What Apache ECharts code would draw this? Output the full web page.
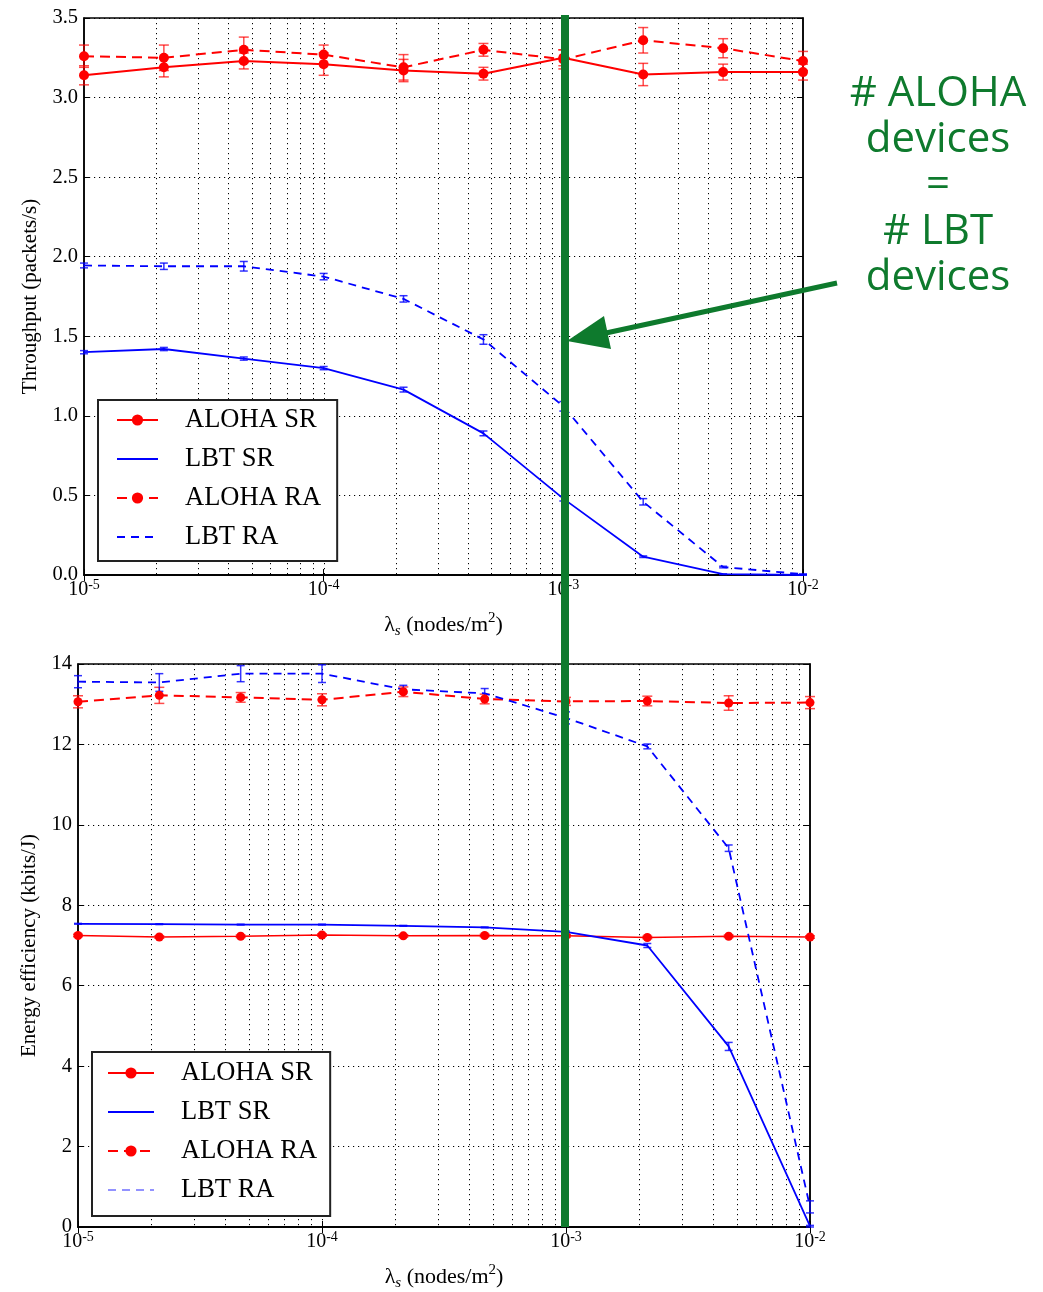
<!DOCTYPE html>
<html>
<head>
<meta charset="utf-8">
<script src="https://cdn.jsdelivr.net/npm/echarts@6/dist/echarts.min.js"></script>
<style>
html,body{margin:0;padding:0;background:#fff;}
#chart{width:1043px;height:1292px;}
</style>
</head>
<body>
<div id="chart"></div>
<script>
// ---- data ----
const lambdaS = [1e-5, 2.154e-5, 4.642e-5, 1e-4, 2.154e-4, 4.642e-4, 1e-3, 2.154e-3, 4.642e-3, 1e-2];
const gridX = [2e-5,3e-5,4e-5,5e-5,6e-5,7e-5,8e-5,9e-5,1e-4,2e-4,3e-4,4e-4,5e-4,6e-4,7e-4,8e-4,9e-4,1e-3,2e-3,3e-3,4e-3,5e-3,6e-3,7e-3,8e-3,9e-3];
const seriesNames = ['ALOHA SR', 'LBT SR', 'ALOHA RA', 'LBT RA'];

// Throughput (packets/s)
const thrAlohaSR    = [3.14, 3.19, 3.23, 3.21, 3.17, 3.15, 3.25, 3.145, 3.16, 3.16];
const thrAlohaSRErr = [0.06, 0.06, 0.05, 0.07, 0.07, 0.04, 0.05, 0.07, 0.05, 0.05];
const thrAlohaRA    = [3.26, 3.25, 3.30, 3.27, 3.19, 3.30, 3.24, 3.36, 3.31, 3.23];
const thrAlohaRAErr = [0.07, 0.08, 0.08, 0.06, 0.08, 0.04, 0.06, 0.08, 0.06, 0.06];
const thrLbtSR      = [1.40, 1.42, 1.36, 1.30, 1.165, 0.89, 0.48, 0.115, 0.005, 0.0];
const thrLbtSRErr   = [0.01, 0.01, 0.01, 0.01, 0.015, 0.015, 0.015, 0.005, 0.002, 0.001];
const thrLbtRA      = [1.945, 1.94, 1.94, 1.875, 1.735, 1.48, 1.06, 0.46, 0.05, 0.005];
const thrLbtRAErr   = [0.015, 0.02, 0.03, 0.02, 0.02, 0.03, 0.03, 0.02, 0.005, 0.002];

// Energy efficiency (kbits/J)
const eeAlohaSR    = [7.25, 7.21, 7.23, 7.26, 7.24, 7.25, 7.24, 7.20, 7.23, 7.21];
const eeAlohaSRErr = [0.03, 0.03, 0.03, 0.03, 0.03, 0.03, 0.03, 0.03, 0.03, 0.03];
const eeAlohaRA    = [13.06, 13.22, 13.17, 13.11, 13.31, 13.13, 13.07, 13.08, 13.03, 13.04];
const eeAlohaRAErr = [0.15, 0.2, 0.12, 0.15, 0.12, 0.12, 0.1, 0.12, 0.18, 0.15];
const eeLbtSR      = [7.54, 7.53, 7.52, 7.52, 7.49, 7.45, 7.34, 7.0, 4.49, 0.02];
const eeLbtSRErr   = [0.01, 0.01, 0.01, 0.01, 0.01, 0.01, 0.02, 0.05, 0.1, 0.02];
const eeLbtRA      = [13.56, 13.54, 13.76, 13.76, 13.37, 13.27, 12.66, 11.95, 9.42, 0.5];
const eeLbtRAErr   = [0.15, 0.22, 0.2, 0.22, 0.1, 0.12, 0.15, 0.06, 0.08, 0.15];

// ---- helpers ----
const SERIF = '"Liberation Serif", "DejaVu Serif", serif';
const RED = '#ff0000', BLUE = '#0000ff', GREEN = '#0e7a2d';
const DOT = [1.2, 3.8];

function pairs(v) { return lambdaS.map((x, i) => [x, v[i]]); }
function errData(v, e) { return lambdaS.map((x, i) => [x, v[i] - e[i], v[i] + e[i]]); }

function errSeries(v, e, color, cap, xi, yi) {
  return {
    type: 'custom', xAxisIndex: xi, yAxisIndex: yi, silent: true, z: 3,
    data: errData(v, e), encode: { x: 0, y: [1, 2] },
    renderItem: function (params, api) {
      const x = api.value(0);
      const p1 = api.coord([x, api.value(1)]);
      const p2 = api.coord([x, api.value(2)]);
      const st = { stroke: color, lineWidth: 1.5 };
      return { type: 'group', children: [
        { type: 'line', shape: { x1: p1[0], y1: p1[1], x2: p2[0], y2: p2[1] }, style: st },
        { type: 'line', shape: { x1: p1[0] - cap, y1: p1[1], x2: p1[0] + cap, y2: p1[1] }, style: st },
        { type: 'line', shape: { x1: p2[0] - cap, y1: p2[1], x2: p2[0] + cap, y2: p2[1] }, style: st }
      ]};
    }
  };
}

function lineSeries(name, v, color, dash, withMarker, width, xi, yi, msize) {
  return {
    name: name, type: 'line', xAxisIndex: xi, yAxisIndex: yi, data: pairs(v),
    symbol: withMarker ? 'circle' : 'none', symbolSize: msize || 9, showSymbol: withMarker,
    itemStyle: { color: color },
    lineStyle: { color: color, width: width, type: dash ? dash : 'solid' },
    z: 4, animation: false
  };
}

// vertical dotted grid lines at every decade sub-division (log minor grid)
function gridSeries(xi, yi) {
  return {
    type: 'custom', xAxisIndex: xi, yAxisIndex: yi, silent: true, z: 1,
    data: gridX.map(v => [v, 0]), encode: { x: 0, y: 1 },
    renderItem: function (params, api) {
      const cs = params.coordSys;
      const px = Math.round(api.coord([api.value(0), 0])[0]) + 0.5;
      return { type: 'line', shape: { x1: px, y1: cs.y, x2: px, y2: cs.y + cs.height },
        style: { stroke: '#000', lineWidth: 1, lineDash: DOT } };
    }
  };
}

const supRich = {
  b: { fontFamily: SERIF, fontSize: 20, color: '#000', lineHeight: 24 },
  sup: { fontFamily: SERIF, fontSize: 14, color: '#000', verticalAlign: 'top', lineHeight: 24 }
};
function expFmt(v) { const e = Math.round(Math.log10(v)); return '{b|10}{sup|' + (e < 0 ? '-' : '') + Math.abs(e) + '}'; }

const nameRich = {
  it: { fontFamily: SERIF, fontSize: 22, color: '#000' },
  sub: { fontFamily: SERIF, fontSize: 15, fontStyle: 'italic', color: '#000', verticalAlign: 'bottom', lineHeight: 28 },
  t: { fontFamily: SERIF, fontSize: 22, color: '#000' },
  sup: { fontFamily: SERIF, fontSize: 15, color: '#000', verticalAlign: 'top', lineHeight: 26 }
};

function xAxes(gi) {
  return [
    { type: 'log', logBase: 10, gridIndex: gi, min: 1e-5, max: 1e-2, position: 'bottom',
      axisLine: { lineStyle: { color: '#000', width: 1.5 } },
      axisTick: { inside: true, length: 6, lineStyle: { color: '#000' } },
      axisLabel: { formatter: expFmt, rich: supRich, margin: 3 },
      splitLine: { show: false },
      name: '{it|λ}{sub|s}{t| (nodes/m}{sup|2}{t|)}', nameLocation: 'middle', nameGap: 36,
      nameTextStyle: { rich: nameRich } },
    { type: 'log', logBase: 10, gridIndex: gi, min: 1e-5, max: 1e-2, position: 'top',
      axisLine: { lineStyle: { color: '#000', width: 1.5 } },
      axisTick: { inside: true, length: 6, lineStyle: { color: '#000' } },
      axisLabel: { show: false }, splitLine: { show: false } }
  ];
}
function yAxes(gi, max, step, dec, name, gap) {
  return [
    { type: 'value', gridIndex: gi, min: 0, max: max, interval: step, position: 'left',
      axisLine: { show: true, lineStyle: { color: '#000', width: 1.5 } },
      axisTick: { show: true, inside: true, length: 6, lineStyle: { color: '#000' } },
      axisLabel: { formatter: v => v.toFixed(dec), fontFamily: SERIF, fontSize: 20.5, color: '#000', margin: 6 },
      splitLine: { show: true, lineStyle: { color: '#000', width: 1, type: DOT } },
      name: name, nameLocation: 'middle', nameGap: gap, nameRotate: 90,
      nameTextStyle: { fontFamily: SERIF, fontSize: 21, color: '#000' } },
    { type: 'value', gridIndex: gi, min: 0, max: max, interval: step, position: 'right',
      axisLine: { show: true, lineStyle: { color: '#000', width: 1.5 } },
      axisTick: { show: true, inside: true, length: 6, lineStyle: { color: '#000' } },
      axisLabel: { show: false }, splitLine: { show: false } }
  ];
}

function legend(left, top, pad, iw, lbtRaStyle) {
  return {
    data: [
      { name: 'ALOHA SR' },
      { name: 'LBT SR', itemStyle: { opacity: 0 } },
      { name: 'ALOHA RA' },
      { name: 'LBT RA', itemStyle: { opacity: 0 }, lineStyle: lbtRaStyle }
    ],
    orient: 'vertical', left: left, top: top,
    padding: pad, itemGap: 11, itemWidth: iw, itemHeight: 14,
    backgroundColor: '#fff', borderColor: '#222', borderWidth: 2, borderRadius: 0,
    textStyle: { fontFamily: SERIF, fontSize: 26.5, color: '#000', lineHeight: 28, padding: [0, 0, 0, 22] },
    selectedMode: false, z: 20
  };
}

const chart = echarts.init(document.getElementById('chart'), null, { renderer: 'canvas' });
const GFONT = '42px "Open Sans", sans-serif';
function gtext(t, y) {
  return { type: 'text', z: 100, style: { text: t, x: 938, y: y, fill: GREEN, font: GFONT, align: 'center', verticalAlign: 'middle' } };
}

const option = {
  backgroundColor: '#fff',
  animation: false,
  grid: [
    { left: 84, top: 18, width: 719, height: 557, show: true, borderColor: '#000', borderWidth: 1.5, backgroundColor: 'transparent' },
    { left: 78, top: 664, width: 732, height: 566, show: true, borderColor: '#000', borderWidth: 1.5, backgroundColor: 'transparent' }
  ],
  xAxis: [].concat(xAxes(0), xAxes(1)),
  yAxis: [].concat(yAxes(0, 3.5, 0.5, 1, 'Throughput (packets/s)', 42), yAxes(1, 14, 2, 0, 'Energy efficiency (kbits/J)', 38)),
  legend: [
    legend(98, 400, [6, 16, 10, 18], 41, { color: BLUE, width: 1.8, type: [8, 6] }),
    legend(92, 1052, [7, 13, 12, 15], 46, { color: '#6f6fff', width: 1.3, type: [8, 6] })
  ],
  series: [
    gridSeries(0, 0),
    gridSeries(2, 2),
    // top chart
    lineSeries('ALOHA SR', thrAlohaSR, RED, null, true, 2, 0, 0, 10),
    lineSeries('LBT SR', thrLbtSR, BLUE, null, false, 1.8, 0, 0),
    lineSeries('ALOHA RA', thrAlohaRA, RED, [10, 6], true, 2, 0, 0, 10),
    lineSeries('LBT RA', thrLbtRA, BLUE, [8, 6], false, 1.8, 0, 0),
    errSeries(thrAlohaSR, thrAlohaSRErr, 'rgba(255,0,0,0.7)', 5, 0, 0),
    errSeries(thrAlohaRA, thrAlohaRAErr, 'rgba(255,0,0,0.7)', 5, 0, 0),
    errSeries(thrLbtSR, thrLbtSRErr, 'rgba(0,0,255,0.8)', 4, 0, 0),
    errSeries(thrLbtRA, thrLbtRAErr, 'rgba(0,0,255,0.8)', 4, 0, 0),
    // bottom chart
    lineSeries('ALOHA SR', eeAlohaSR, RED, null, true, 1.5, 2, 2, 9),
    lineSeries('LBT SR', eeLbtSR, BLUE, null, false, 1.8, 2, 2),
    lineSeries('ALOHA RA', eeAlohaRA, RED, [10, 6], true, 2, 2, 2, 9),
    lineSeries('LBT RA', eeLbtRA, BLUE, [8, 6], false, 1.8, 2, 2),
    errSeries(eeAlohaSR, eeAlohaSRErr, 'rgba(255,0,0,0.7)', 5, 2, 2),
    errSeries(eeAlohaRA, eeAlohaRAErr, 'rgba(255,0,0,0.7)', 5, 2, 2),
    errSeries(eeLbtSR, eeLbtSRErr, 'rgba(0,0,255,0.8)', 4, 2, 2),
    errSeries(eeLbtRA, eeLbtRAErr, 'rgba(0,0,255,0.8)', 4, 2, 2)
  ],
  graphic: [
    { type: 'rect', shape: { x: 561, y: 15, width: 8, height: 1212 }, style: { fill: GREEN }, z: 100 },
    { type: 'line', shape: { x1: 606, y1: 333, x2: 837, y2: 283 }, style: { stroke: GREEN, lineWidth: 5 }, z: 100 },
    { type: 'polygon', shape: { points: [[567, 341], [604, 316], [611, 349]] }, style: { fill: GREEN }, z: 100 },
    gtext('# ALOHA', 94),
    gtext('devices', 140),
    gtext('=', 185),
    gtext('# LBT', 232),
    gtext('devices', 278)
  ]
};
chart.setOption(option);
</script>
</body>
</html>
